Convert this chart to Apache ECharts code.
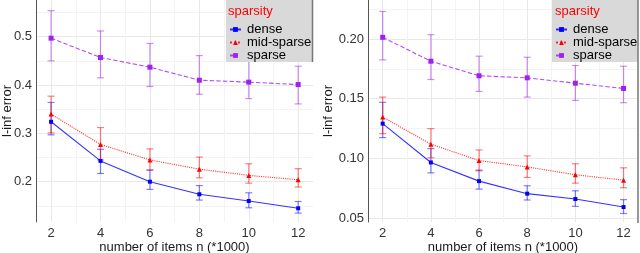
<!DOCTYPE html>
<html>
<head>
<meta charset="utf-8">
<script src="https://cdn.jsdelivr.net/npm/echarts@6/dist/echarts.min.js"></script>
<style>html,body{margin:0;padding:0;background:#fff;}#c{width:640px;height:253px;}</style>
</head>
<body>
<div id="c"></div>
<script>
var xs = [2, 4, 6, 8, 10, 12];
var seriesNames = ['dense', 'mid-sparse', 'sparse'];
var xTicks = [2, 4, 6, 8, 10, 12];
var yTicksLeft = [0.2, 0.3, 0.4, 0.5];
var yTicksRight = [0.05, 0.10, 0.15, 0.20];

// Left panel
var L_dense = [0.324, 0.243, 0.200, 0.174, 0.160, 0.145];
var L_denseLo = [0.297, 0.217, 0.184, 0.162, 0.146, 0.135];
var L_denseHi = [0.364, 0.267, 0.224, 0.192, 0.177, 0.159];
var L_mid = [0.340, 0.277, 0.245, 0.226, 0.213, 0.204];
var L_midLo = [0.301, 0.245, 0.224, 0.208, 0.197, 0.189];
var L_midHi = [0.377, 0.312, 0.268, 0.251, 0.237, 0.227];
var L_sparse = [0.497, 0.457, 0.437, 0.410, 0.406, 0.401];
var L_sparseLo = [0.450, 0.415, 0.397, 0.381, 0.372, 0.361];
var L_sparseHi = [0.554, 0.512, 0.486, 0.461, 0.450, 0.439];

// Right panel
var R_dense = [0.1292, 0.0967, 0.0811, 0.0706, 0.0661, 0.0594];
var R_denseLo = [0.1175, 0.0880, 0.0744, 0.0653, 0.0600, 0.0540];
var R_denseHi = [0.1470, 0.1083, 0.0903, 0.0772, 0.0730, 0.0656];
var R_mid = [0.1347, 0.1120, 0.0983, 0.0930, 0.0864, 0.0819];
var R_midLo = [0.1208, 0.1006, 0.0897, 0.0842, 0.0794, 0.0756];
var R_midHi = [0.1514, 0.1250, 0.1072, 0.1022, 0.0956, 0.0922];
var R_sparse = [0.2014, 0.1814, 0.1692, 0.1675, 0.1630, 0.1586];
var R_sparseLo = [0.1825, 0.1661, 0.1561, 0.1514, 0.1486, 0.1467];
var R_sparseHi = [0.2230, 0.2036, 0.1856, 0.1847, 0.1778, 0.1772];

var colors = {'dense': '#0000FF', 'mid-sparse': '#FF0000', 'sparse': '#A020F0'};
var lineTypes = {'dense': 'solid', 'mid-sparse': 'dotted', 'sparse': 'dashed'};
var symbols = {'dense': 'rect', 'mid-sparse': 'triangle', 'sparse': 'rect'};
var symSizes = {'dense': 4, 'mid-sparse': 5, 'sparse': 5};
var FONT = 'Liberation Sans, Arial, sans-serif';

function pairs(vals) { return xs.map(function (x, i) { return [x, vals[i]]; }); }
function triples(lo, hi) { return xs.map(function (x, i) { return [x, lo[i], hi[i]]; }); }

function lineSeries(name, idx, vals) {
  return {
    type: 'line', name: name, xAxisIndex: idx, yAxisIndex: idx,
    data: pairs(vals),
    symbol: symbols[name], symbolSize: symSizes[name],
    itemStyle: {color: colors[name]},
    lineStyle: {color: colors[name], width: 1.1, type: lineTypes[name], opacity: 0.8},
    z: 4, silent: true
  };
}
function errSeries(name, idx, lo, hi) {
  return {
    type: 'custom', name: name + '-err' + idx, xAxisIndex: idx, yAxisIndex: idx,
    data: triples(lo, hi), silent: true, z: 3,
    renderItem: function (params, api) {
      var top = api.coord([api.value(0), api.value(2)]);
      var bot = api.coord([api.value(0), api.value(1)]);
      var w = 3.5;
      var st = {stroke: colors[name], lineWidth: 1.2, opacity: 0.5};
      return {type: 'group', children: [
        {type: 'line', shape: {x1: top[0], y1: top[1], x2: bot[0], y2: bot[1]}, style: st},
        {type: 'line', shape: {x1: top[0] - w, y1: top[1], x2: top[0] + w, y2: top[1]}, style: st},
        {type: 'line', shape: {x1: bot[0] - w, y1: bot[1], x2: bot[0] + w, y2: bot[1]}, style: st}
      ]};
    }
  };
}

function xAxisCfg(idx) {
  return {
    type: 'value', gridIndex: idx, min: 1.39, max: 12.6, splitNumber: 5,
    name: 'number of items n (*1000)', nameLocation: 'middle', nameGap: 19, nameMoveOverlap: false,
    nameTextStyle: {fontFamily: FONT, fontSize: 13, color: '#1a1a1a'},
    axisLine: {show: false}, axisTick: {show: false, customValues: xTicks},
    axisLabel: {customValues: xTicks, fontFamily: FONT, fontSize: 13, color: '#333', margin: 5},
    splitLine: {show: true, lineStyle: {color: '#e8e8e8', width: 1}},
    minorTick: {show: false, splitNumber: 2},
    minorSplitLine: {show: true, lineStyle: {color: '#f3f3f3', width: 1}}
  };
}
function yAxisCfg(idx, min, max, split, ticks, dec) {
  return {
    type: 'value', gridIndex: idx, min: min, max: max, splitNumber: split,
    name: 'l-inf error', nameLocation: 'middle', nameGap: idx === 0 ? 22 : 33, nameMoveOverlap: false,
    nameTextStyle: {fontFamily: FONT, fontSize: 13, color: '#1a1a1a'},
    axisLine: {show: true, lineStyle: {color: '#555', width: 1}},
    axisTick: {show: false, customValues: ticks},
    axisLabel: {customValues: ticks, fontFamily: FONT, fontSize: 13, color: '#333', margin: 4,
      formatter: function (v) { return v.toFixed(dec); }},
    splitLine: {show: true, lineStyle: {color: '#e8e8e8', width: 1}},
    minorTick: {show: false, splitNumber: 2},
    minorSplitLine: {show: true, lineStyle: {color: '#f3f3f3', width: 1}}
  };
}

function legendCfg(left) {
  return {
    data: seriesNames, orient: 'vertical', left: left, top: 23,
    itemWidth: 11, itemHeight: 6, itemGap: 0, padding: 0, z: 12,
    textStyle: {fontFamily: FONT, fontSize: 13, color: '#000', lineHeight: 12, padding: [0, 0, 0, 1]},
    selectedMode: false
  };
}

var chart = echarts.init(document.getElementById('c'), null, {renderer: 'canvas'});
chart.setOption({
  animation: false,
  backgroundColor: '#fff',
  grid: [
    {left: 36, top: 0, width: 277, height: 222, outerBoundsMode: 'none', containLabel: false},
    {left: 368, top: 0, width: 270, height: 222, outerBoundsMode: 'none', containLabel: false}
  ],
  xAxis: [xAxisCfg(0), xAxisCfg(1)],
  yAxis: [
    yAxisCfg(0, 0.1166, 0.576, 5, yTicksLeft, 1),
    yAxisCfg(1, 0.0469, 0.2326, 4, yTicksRight, 2)
  ],
  legend: [legendCfg(229), legendCfg(555)],
  title: [
    {text: 'sparsity', left: 228, top: 5, padding: 0, z: 12,
     textStyle: {fontFamily: FONT, fontSize: 13, fontWeight: 'normal', color: '#FF0000'}},
    {text: 'sparsity', left: 555, top: 5, padding: 0, z: 12,
     textStyle: {fontFamily: FONT, fontSize: 13, fontWeight: 'normal', color: '#FF0000'}}
  ],
  graphic: [
    {type: 'rect', left: 226, top: 0, shape: {width: 87, height: 62}, style: {fill: '#d9d9d9'}, z: 10, silent: true},
    {type: 'rect', left: 552, top: 0, shape: {width: 86, height: 62}, style: {fill: '#d9d9d9'}, z: 10, silent: true},
    {type: 'line', shape: {x1: 312.5, y1: 0, x2: 312.5, y2: 62}, style: {stroke: '#777', lineWidth: 1.5}, z: 11, silent: true},
    {type: 'line', shape: {x1: 638, y1: 0, x2: 638, y2: 223}, style: {stroke: '#777', lineWidth: 1.5}, z: 11, silent: true}
  ],
  series: [
    lineSeries('dense', 0, L_dense), lineSeries('mid-sparse', 0, L_mid), lineSeries('sparse', 0, L_sparse),
    lineSeries('dense', 1, R_dense), lineSeries('mid-sparse', 1, R_mid), lineSeries('sparse', 1, R_sparse),
    errSeries('dense', 0, L_denseLo, L_denseHi), errSeries('mid-sparse', 0, L_midLo, L_midHi), errSeries('sparse', 0, L_sparseLo, L_sparseHi),
    errSeries('dense', 1, R_denseLo, R_denseHi), errSeries('mid-sparse', 1, R_midLo, R_midHi), errSeries('sparse', 1, R_sparseLo, R_sparseHi)
  ]
});
</script>
</body>
</html>
